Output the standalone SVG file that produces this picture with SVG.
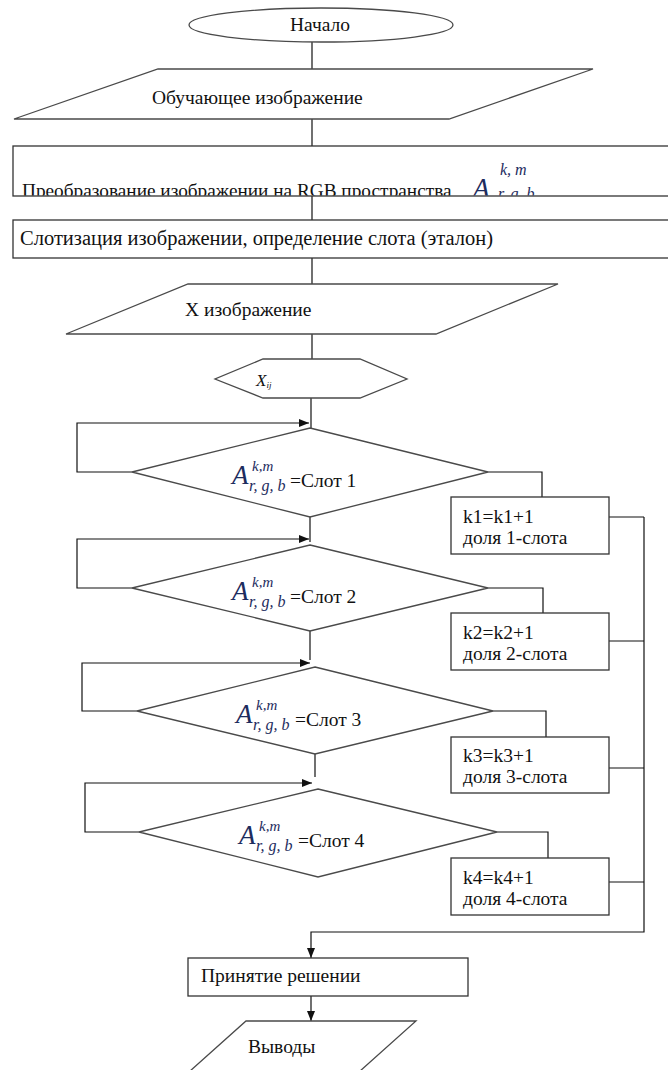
<svg xmlns="http://www.w3.org/2000/svg" width="668" height="1070" viewBox="0 0 668 1070">
<style>
.shape{fill:#fff;stroke:#4a4a4a;stroke-width:1.3}
.box{fill:#fff;stroke:#333;stroke-width:1.3}
.edge{fill:none;stroke:#111;stroke-width:1.2}
text{font-family:'Liberation Serif','DejaVu Serif',serif;font-size:19.5px;fill:#111}
.m{font-style:italic;fill:#1d2c5e}
.big{font-size:27px}
.sm{font-size:15px}
.sub{font-size:16px}
</style>
<defs>
<marker id="arr" viewBox="0 0 10 10" refX="10" refY="5" markerWidth="10" markerHeight="10" markerUnits="userSpaceOnUse" orient="auto">
<path d="M0,1 L10,5 L0,9 Z" fill="#111"/>
</marker>
<clipPath id="clipRGB"><rect x="13" y="146" width="660" height="49.5"/></clipPath>
</defs>

<g id="connectors">
<path class="edge" d="M312 42 V69"/>
<path class="edge" d="M312 119 V146"/>
<path class="edge" d="M312 196 V220"/>
<path class="edge" d="M312 258 V284"/>
<path class="edge" d="M312 334 V359"/>
<path class="edge" d="M311 398 V428"/>
<path class="edge" d="M310 517 V542"/>
<path class="edge" d="M310 631 V660"/>
<path class="edge" d="M315 754 V777"/>
<path class="edge" d="M132 472 H77 V423 H309" marker-end="url(#arr)"/>
<path class="edge" d="M132 588 H77 V539 H309" marker-end="url(#arr)"/>
<path class="edge" d="M137 711 H82 V663 H310" marker-end="url(#arr)"/>
<path class="edge" d="M139 832 H85 V783 H312" marker-end="url(#arr)"/>
<path class="edge" d="M488 472 H542 V497"/>
<path class="edge" d="M488 588 H543 V613"/>
<path class="edge" d="M493 711 H546 V737"/>
<path class="edge" d="M497 832 H548 V858"/>
<path class="edge" d="M609 517 H644"/>
<path class="edge" d="M609 641 H644"/>
<path class="edge" d="M609 768 H644"/>
<path class="edge" d="M609 882 H644"/>
<path class="edge" d="M644 517 V932 H311 V958" marker-end="url(#arr)"/>
<path class="edge" d="M311 996 V1021" marker-end="url(#arr)"/>
</g>

<g id="start">
<ellipse class="shape" cx="321" cy="25" rx="132" ry="17"/>
<text x="320" y="31" text-anchor="middle">Начало</text>
</g>

<g id="input-training">
<polygon class="shape" points="158,69 593,69 449,119 14,119"/>
<text x="152" y="104">Обучающее изображение</text>
</g>

<g id="rgb-transform">
<rect class="box" x="13" y="146" width="660" height="50"/>
<g clip-path="url(#clipRGB)">
<text x="22" y="197" style="font-size:19.3px">Преобразование изображении на RGB пространства</text>
<text x="473" y="197" class="m big">A</text>
<text x="498" y="199" class="m sub">r, g, b</text>
</g>
<text x="500" y="175" class="m" style="font-size:16px">k, m</text>
</g>

<g id="slotting">
<rect class="box" x="13" y="220" width="660" height="38"/>
<text x="20" y="245" style="font-size:20.5px">Слотизация изображении, определение слота (эталон)</text>
</g>

<g id="input-x">
<polygon class="shape" points="188,284 558,284 436,334 66,334"/>
<text x="185" y="316">X изображение</text>
</g>

<g id="xij">
<polygon class="shape" points="263,359 360,359 407,379 360,398 263,398 215,379"/>
<text x="256" y="386" class="m" style="font-size:17px;fill:#111">X<tspan style="font-size:9px" dy="2">ij</tspan></text>
</g>

<g id="decision1">
<polygon class="shape" points="310,428 488,472 310,517 132,472"/>
<text x="232" y="484" class="m big">A</text>
<text x="252" y="471" class="m sm">k,m</text>
<text x="249" y="491" class="m sub">r, g, b</text>
<text x="290" y="487">=Слот 1</text>
</g>

<g id="decision2">
<polygon class="shape" points="310,545 488,588 310,631 132,588"/>
<text x="232" y="600" class="m big">A</text>
<text x="252" y="587" class="m sm">k,m</text>
<text x="249" y="607" class="m sub">r, g, b</text>
<text x="290" y="603">=Слот 2</text>
</g>

<g id="decision3">
<polygon class="shape" points="315,667 493,711 315,754 137,711"/>
<text x="236" y="723" class="m big">A</text>
<text x="256" y="710" class="m sm">k,m</text>
<text x="253" y="730" class="m sub">r, g, b</text>
<text x="295" y="726">=Слот 3</text>
</g>

<g id="decision4">
<polygon class="shape" points="318,789 497,832 318,877 139,832"/>
<text x="239" y="844" class="m big">A</text>
<text x="259" y="831" class="m sm">k,m</text>
<text x="256" y="851" class="m sub">r, g, b</text>
<text x="298" y="847">=Слот 4</text>
</g>

<g id="count1">
<rect class="box" x="451" y="497" width="158" height="57"/>
<text x="463" y="523">k1=k1+1</text>
<text x="463" y="544">доля 1-слота</text>
</g>

<g id="count2">
<rect class="box" x="451" y="613" width="158" height="57"/>
<text x="463" y="639">k2=k2+1</text>
<text x="463" y="660">доля 2-слота</text>
</g>

<g id="count3">
<rect class="box" x="451" y="737" width="158" height="56"/>
<text x="463" y="762">k3=k3+1</text>
<text x="463" y="783">доля 3-слота</text>
</g>

<g id="count4">
<rect class="box" x="451" y="858" width="158" height="57"/>
<text x="463" y="884">k4=k4+1</text>
<text x="463" y="905">доля 4-слота</text>
</g>

<g id="decision">
<rect class="box" x="188" y="958" width="280" height="38"/>
<text x="201" y="982">Принятие решении</text>
</g>

<g id="output">
<polygon class="shape" points="246,1021 416,1021 350,1080 180,1080"/>
<text x="248" y="1053">Выводы</text>
</g>
</svg>
